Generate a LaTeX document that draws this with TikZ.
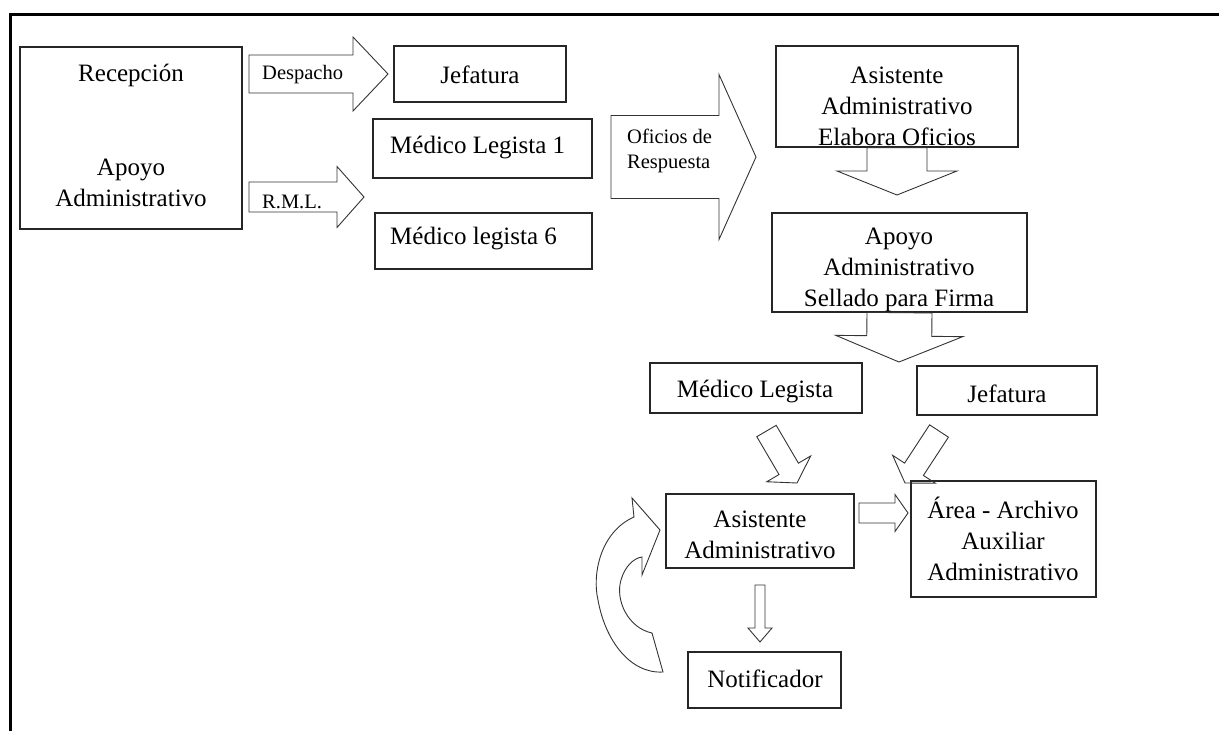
\documentclass[tikz,border=0pt]{standalone}
\usepackage{fontspec}
\setmainfont{Liberation Serif}
\usetikzlibrary{calc}
\tikzset{
 box/.style={draw=black!85, line width=1.3pt, inner sep=0pt, rectangle},
 blk/.style={draw=black!80, line width=0.9pt, line join=miter},
 txt/.style={font=\fontsize{25}{31}\selectfont, align=center, inner sep=0pt},
 stxt/.style={font=\fontsize{20.5}{25}\selectfont, align=left, inner sep=0pt},
 frame/.style={line width=3pt, draw=black},
}
% #1 tail centre, #2 tip, #3 shaft half width, #4 head half width, #5 head length
\newcommand{\barrow}[5]{%
  \draw[blk] ($(#1)!#3pt!90:(#2)$) -- ($(#2)!#5pt!(#1)!#3pt!-90:(#1)$) --
    ($(#2)!#5pt!(#1)!#4pt!-90:(#1)$) -- (#2) --
    ($(#2)!#5pt!(#1)!#4pt!90:(#1)$) -- ($(#2)!#5pt!(#1)!#3pt!90:(#1)$) --
    ($(#1)!#3pt!-90:(#2)$) -- cycle;}
\begin{document}
\begin{tikzpicture}[x=1pt,y=-1pt]
\useasboundingbox (0,0) rectangle (1219,731);
\draw[frame] (10,731) -- (10,14) -- (1219,14);

% boxes
\node[box, minimum width=222pt, minimum height=182pt] (rec) at (131,138) {};
\node[box, minimum width=172pt, minimum height=56pt] (jef1) at (480,74) {};
\node[box, minimum width=219pt, minimum height=59pt] (ml1) at (482.5,148.5) {};
\node[box, minimum width=217pt, minimum height=56pt] (ml6) at (483.5,241) {};
\node[box, minimum width=242pt, minimum height=101pt] (aseo) at (897,96.5) {};
\node[box, minimum width=255pt, minimum height=99pt] (apsf) at (899.5,262.5) {};
\node[box, minimum width=212pt, minimum height=50pt] (mleg) at (756,388) {};
\node[box, minimum width=180pt, minimum height=49pt] (jef2) at (1007,390.5) {};
\node[box, minimum width=188pt, minimum height=74pt] (asis) at (760,531) {};
\node[box, minimum width=185pt, minimum height=116pt] (area) at (1003.5,539) {};
\node[box, minimum width=153pt, minimum height=56pt] (notif) at (764.5,680) {};

% texts
\node[txt] (recT) at (131,75) {Recepción};
\node[txt] (recA) at (131,183) {Apoyo\\Administrativo};
\node[txt] (jef1T) at (480,75) {Jefatura};
\node[txt, anchor=west] (ml1T) at (390,148) {Médico Legista 1};
\node[txt, anchor=west] (ml6T) at (390,239) {Médico legista 6};
\node[txt] (aseoT) at (897,106) {Asistente\\Administrativo\\Elabora Oficios};
\node[txt] (apsfT) at (899,270) {Apoyo\\Administrativo\\Sellado para Firma};
\node[txt] (mlegT) at (755,392) {Médico Legista};
\node[txt] (jef2T) at (1007,394) {Jefatura};
\node[txt] (asisT) at (760,535) {Asistente\\Administrativo};
\node[txt] (areaT) at (1003,539) {Área - Archivo\\Auxiliar\\Administrativo};
\node[txt] (notifT) at (765,679) {Notificador};

% block arrows
\coordinate (dA) at (249,74);   \coordinate (dB) at (388,74);
\coordinate (rA) at (249,197);  \coordinate (rB) at (364,197);
\coordinate (oA) at (611,157);  \coordinate (oB) at (756,157);
\coordinate (e1B) at (897,195);
\coordinate (s1B) at (899,362);
\coordinate (lA) at (766.5,431); \coordinate (lB) at (797,483);
\coordinate (gA) at (939,431);   \coordinate (gB) at (905,483);
\coordinate (xA) at (859,513);   \coordinate (xB) at (908,513);
\coordinate (nA) at (760,585);   \coordinate (nB) at (760,642);

\barrow{dA}{dB}{19}{37}{35}
\barrow{rA}{rB}{15}{30.5}{27}
\barrow{oA}{oB}{41.5}{82.5}{37}
\barrow{aseo.south}{e1B}{30}{60}{24}
\barrow{apsf.south}{s1B}{32.5}{63.5}{26}
\barrow{lA}{lB}{11.25}{25.5}{16.4}
\barrow{gA}{gB}{11.25}{25.5}{16.4}
\barrow{xA}{xB}{10}{18.5}{13}
\barrow{nA}{nB}{5}{12}{14}

\node[stxt, anchor=west] (desT) at (262,75) {Despacho};
\node[stxt, anchor=base west] (rmlT) at (262,208) {R.M.L.};
\node[stxt, anchor=north west] (ofT) at (627,129) {Oficios de\\Respuesta};

% curved arrow
\draw[blk] (660,530) -- (632,498) -- (634,517)
  .. controls (600,532) and (592,575) .. (598,600)
  .. controls (605,640) and (630,674) .. (663,672)
  -- (652,633)
  .. controls (628,628) and (615,600) .. (621,580)
  .. controls (625,566) and (634,558) .. (642,557)
  -- (642,575) -- cycle;
\end{tikzpicture}
\end{document}
